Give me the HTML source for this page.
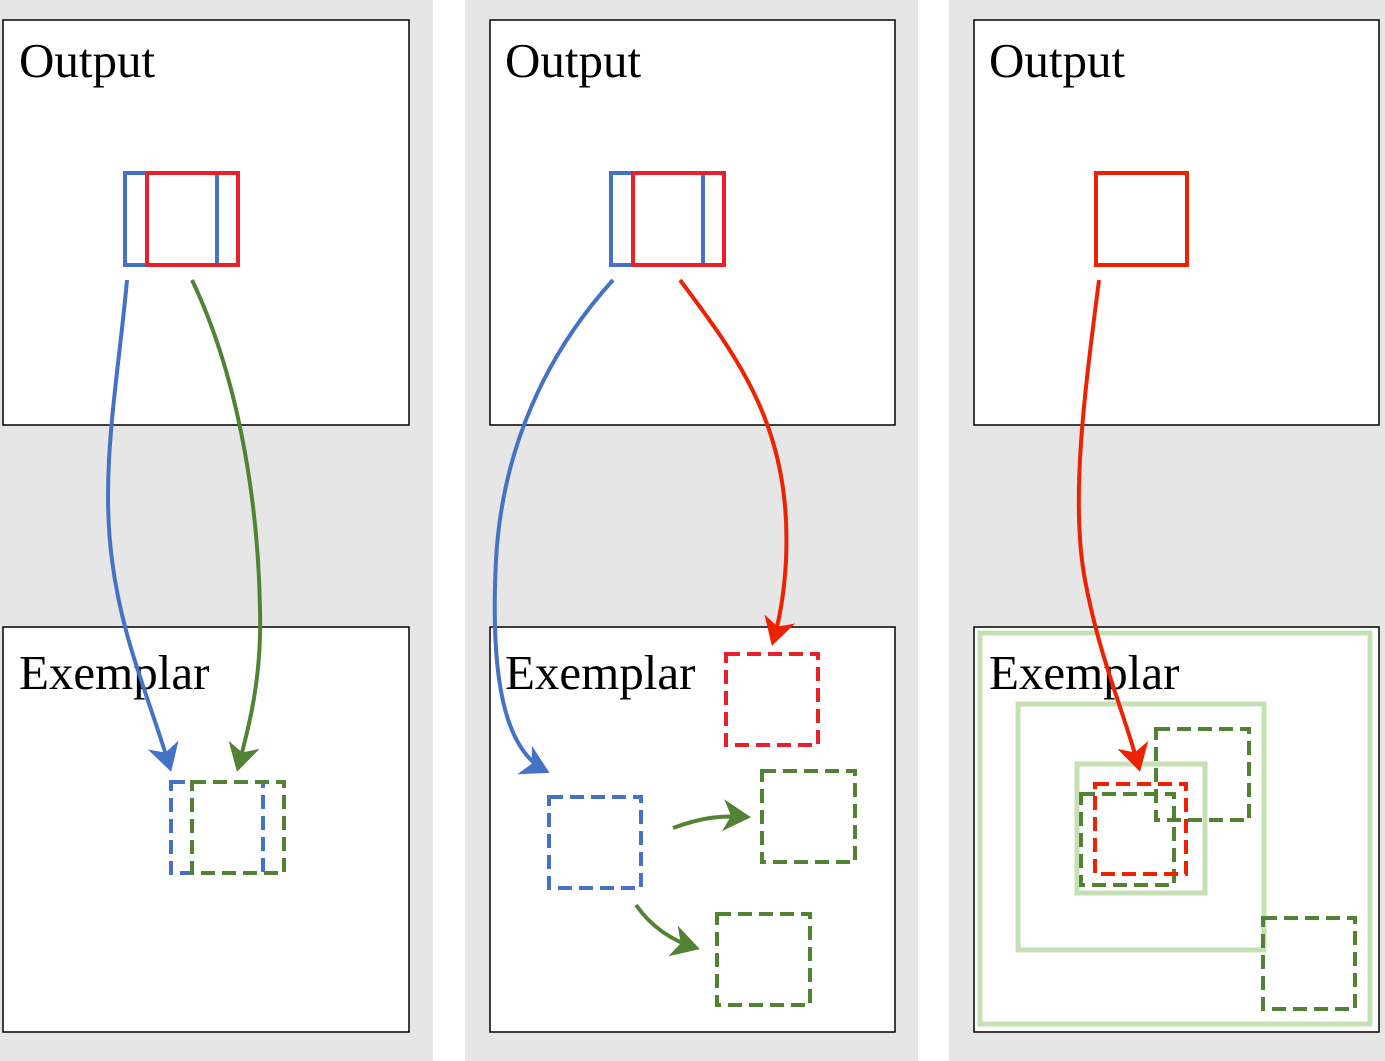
<!DOCTYPE html>
<html><head><meta charset="utf-8"><style>
html,body{margin:0;padding:0;background:#fff;}
svg{display:block;}
text{font-family:"Liberation Serif",serif;font-size:49px;fill:#000;}
</style></head><body>
<svg width="1385" height="1061" viewBox="0 0 1385 1061">
<defs>
<marker id="ab" markerWidth="8" markerHeight="8" refX="6" refY="4" orient="auto" markerUnits="strokeWidth"><path d="M0,0 L7,4 L0,8 L2,4 Z" fill="#4472c4"/></marker>
<marker id="ag" markerWidth="8" markerHeight="8" refX="6" refY="4" orient="auto" markerUnits="strokeWidth"><path d="M0,0 L7,4 L0,8 L2,4 Z" fill="#548235"/></marker>
<marker id="ar" markerWidth="8" markerHeight="8" refX="6" refY="4" orient="auto" markerUnits="strokeWidth"><path d="M0,0 L7,4 L0,8 L2,4 Z" fill="#ee2200"/></marker>
</defs>
<rect x="0" y="0" width="433" height="1061" fill="#e6e6e6"/>
<rect x="465" y="0" width="453" height="1061" fill="#e6e6e6"/>
<rect x="949" y="0" width="436" height="1061" fill="#e6e6e6"/>
<g fill="#fff" stroke="#000" stroke-width="1.5">
<rect x="3" y="20" width="406" height="405"/>
<rect x="3" y="627" width="406" height="405"/>
<rect x="490" y="20" width="405" height="405"/>
<rect x="490" y="627" width="405" height="405"/>
<rect x="974" y="20" width="405" height="405"/>
<rect x="974" y="627" width="405" height="405"/>
</g>
<text x="19" y="77">Output</text>
<text x="505" y="77">Output</text>
<text x="989" y="77">Output</text>
<g fill="none" stroke-width="4">
<rect x="980" y="633" width="390" height="391" stroke="#c5e0b4" stroke-width="5"/>
<rect x="1018" y="704" width="246" height="246" stroke="#c5e0b4" stroke-width="5"/>
<rect x="1077" y="764" width="128" height="129" stroke="#c5e0b4" stroke-width="5"/>
</g>
<text x="19" y="689">Exemplar</text>
<text x="505" y="689">Exemplar</text>
<text x="989" y="689">Exemplar</text>
<g fill="none" stroke-width="4">
<rect x="125" y="173" width="92" height="92" stroke="#4472c4"/>
<rect x="147" y="173" width="91" height="92" stroke="#e8202a"/>
<rect x="171" y="782" width="92" height="91" stroke="#4472c4" stroke-dasharray="14,7"/>
<rect x="192" y="782" width="92" height="91" stroke="#548235" stroke-dasharray="14,7"/>
<path d="M127,280 C118,380 100,470 112,560 C122,640 150,700 170,768" stroke="#4472c4" marker-end="url(#ab)"/>
<path d="M192,280 C235,370 258,490 260,610 C262,680 248,730 238,768" stroke="#548235" marker-end="url(#ag)"/>
<rect x="611" y="173" width="92" height="92" stroke="#4472c4"/>
<rect x="633" y="173" width="91" height="92" stroke="#e8202a"/>
<rect x="726" y="654" width="92" height="91" stroke="#e8202a" stroke-dasharray="14,7"/>
<rect x="762" y="771" width="93" height="91" stroke="#548235" stroke-dasharray="14,7"/>
<rect x="549" y="797" width="92" height="91" stroke="#4472c4" stroke-dasharray="14,7"/>
<rect x="717" y="914" width="93" height="91" stroke="#548235" stroke-dasharray="14,7"/>
<path d="M613,280 C545,355 502,450 496,560 C490,680 505,750 546,771" stroke="#4472c4" marker-end="url(#ab)"/>
<path d="M680,280 C740,360 792,430 786,560 C784,600 778,625 773,642" stroke="#ee2200" marker-end="url(#ar)"/>
<path d="M673,828 C700,818 720,815 747,817" stroke="#548235" marker-end="url(#ag)"/>
<path d="M636,905 C650,925 670,940 696,948" stroke="#548235" marker-end="url(#ag)"/>
<rect x="1096" y="173" width="91" height="92" stroke="#ee2200"/>
<rect x="1156" y="729" width="93" height="91" stroke="#548235" stroke-dasharray="14,7"/>
<rect x="1081" y="794" width="93" height="91" stroke="#548235" stroke-dasharray="14,7"/>
<rect x="1263" y="918" width="92" height="91" stroke="#548235" stroke-dasharray="14,7"/>
<rect x="1095" y="784" width="91" height="90" stroke="#ee2200" stroke-dasharray="14,7"/>
<path d="M1099,280 C1085,390 1070,500 1085,580 C1100,660 1125,715 1139,768" stroke="#ee2200" marker-end="url(#ar)"/>
</g>
</svg>
</body></html>
